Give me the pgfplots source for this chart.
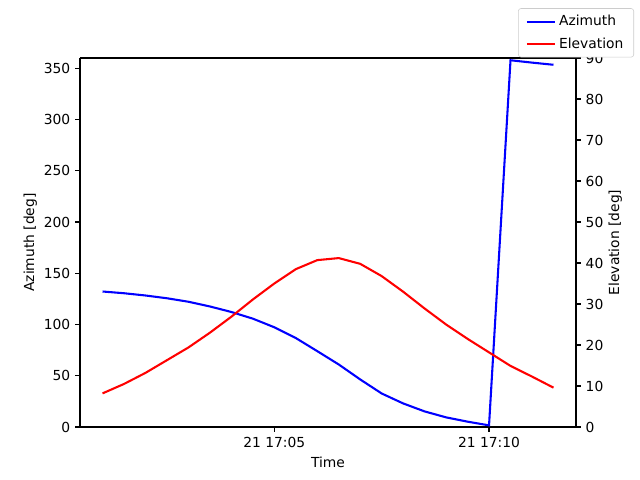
\documentclass[border=0pt]{standalone}
\usepackage{pgfplots}
\pgfplotsset{compat=1.18}
\usepackage{fontspec}
\setmainfont{DejaVu Sans}
\begin{document}
\begin{tikzpicture}
\useasboundingbox (-0.8in,-0.53in) rectangle (5.6in,4.27in);
\pgfplotsset{
  twin/.style={
    at={(0,0)}, anchor=south west,
    scale only axis, width=4.96in, height=3.69in,
    xmin=0.475, xmax=12.025,
    ymin=0,
    tick align=outside, tick style={black, line width=0.8pt},
    major tick length=3.5pt,
    /pgf/number format/assume math mode=true,
    ticklabel style={font=\fontsize{10}{12}\selectfont},
    label style={font=\fontsize{10}{12}\selectfont},
    axis line style={line width=0.8pt},
  }
}
\begin{axis}[twin,
  axis y line*=left,
  xtick pos=lower,
  ymax=360,
  ytick={0,50,...,350},
  xtick={5,10}, xticklabels={21 17:05,21 17:10},
  xlabel={Time}, ylabel={Azimuth [deg]},
  ylabel shift=-2pt,
]
\addplot[blue, line width=1.5pt] coordinates {
(1.0,132.2) (1.5,130.5) (2.0,128.3) (2.5,125.6) (3.0,122.2) (3.5,117.6)
(4.0,112.2) (4.5,105.7) (5.0,97.3) (5.5,86.8) (6.0,74.0) (6.5,61.0)
(7.0,46.4) (7.5,32.7) (8.0,23.0) (8.5,15.2) (9.0,9.4) (9.5,5.2)
(10.0,1.6) (10.5,357.8) (11.0,355.5) (11.5,353.4)
};
\end{axis}
\begin{axis}[twin,
  axis y line*=right, axis x line=none,
  ymax=90,
  ytick={0,10,...,90},
  ylabel={Elevation [deg]},
  ylabel shift=-3pt,
  legend style={at={(1.117,1.135)}, anchor=north east,
    font=\fontsize{10}{12}\selectfont,
    draw=black!20, rounded corners=2pt, inner xsep=5.5pt, inner ysep=3pt,
    row sep=3pt},
  legend cell align=left,
  legend image code/.code={\draw[#1, line width=1.5pt] (0cm,0cm) -- (0.72cm,0cm);},
]
\addlegendimage{blue}
\addlegendentry{Azimuth}
\addplot[red, line width=1.5pt] coordinates {
(1.0,8.2) (1.5,10.5) (2.0,13.2) (2.5,16.3) (3.0,19.4) (3.5,23.0)
(4.0,26.9) (4.5,31.1) (5.0,35.0) (5.5,38.5) (6.0,40.7) (6.5,41.2)
(7.0,39.8) (7.5,36.8) (8.0,33.0) (8.5,28.9) (9.0,25.0) (9.5,21.5)
(10.0,18.2) (10.5,14.9) (11.0,12.3) (11.5,9.6)
};
\addlegendentry{Elevation}
\end{axis}
\end{tikzpicture}
\end{document}
